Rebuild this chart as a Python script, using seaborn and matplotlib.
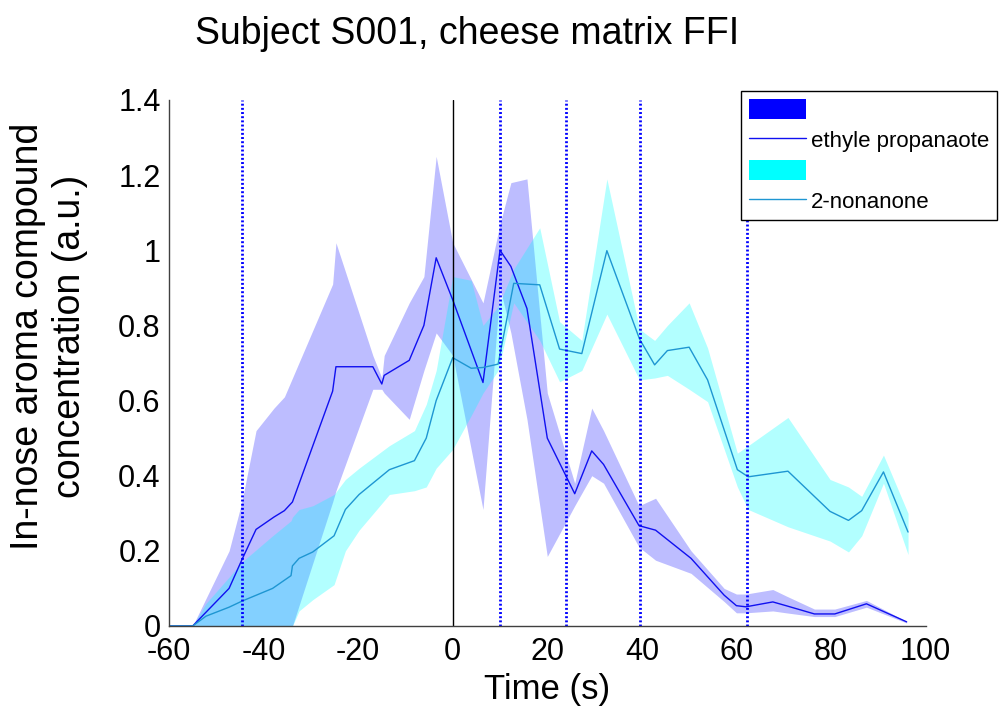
import numpy as np
import matplotlib
matplotlib.use("Agg")
import matplotlib.pyplot as plt
import seaborn as sns
from matplotlib.patches import Patch
from matplotlib.lines import Line2D
from matplotlib.ticker import FuncFormatter

# ------------------------------
# DATA
# ------------------------------

# ethyle propanaote: time, mean, lower / upper band
t_eth = [-60, -55, -47.3, -44.6, -41.6, -37.8, -35.6, -33.9, -25.4, -24.7, -16.9, -15.0, -14.5,
         -9.2, -6.1, -3.5, 0.0, 6.4, 10.0, 12.3, 15.7, 20.0, 25.8, 29.4, 31.9, 39.4, 42.9,
         50.4, 57.4, 60.0, 62.0, 67.7, 70.5, 76.5, 80.8, 87.5, 96.0]
eth_mean = [0, 0, 0.10, 0.176, 0.257, 0.29, 0.307, 0.33, 0.625, 0.69, 0.69, 0.644, 0.667,
            0.707, 0.80, 0.98, 0.868, 0.648, 1.0, 0.957, 0.845, 0.50, 0.352, 0.466, 0.43, 0.267, 0.255,
            0.18, 0.082, 0.054, 0.051, 0.064, 0.054, 0.032, 0.032, 0.059, 0.011]
eth_lo = [0, 0, 0, 0, 0, 0, 0, 0, 0.33, 0.36, 0.63, 0.63, 0.62,
          0.55, 0.68, 0.78, 0.72, 0.31, 0.90, 0.78, 0.55, 0.185, 0.32, 0.40, 0.38, 0.21, 0.175,
          0.14, 0.065, 0.035, 0.035, 0.04, 0.035, 0.025, 0.025, 0.05, 0.008]
eth_hi = [0, 0, 0.20, 0.33, 0.52, 0.58, 0.61, 0.66, 0.91, 1.02, 0.72, 0.66, 0.72,
          0.86, 0.93, 1.25, 1.02, 0.86, 1.07, 1.18, 1.19, 0.62, 0.38, 0.58, 0.52, 0.32, 0.34,
          0.20, 0.10, 0.085, 0.085, 0.097, 0.08, 0.045, 0.045, 0.068, 0.012]

# 2-nonanone: time, mean, lower / upper band
t_non = [-60, -55, -52.2, -47.3, -44.6, -38.1, -34.2, -33.9, -32.5, -29.6, -25.1, -22.7, -19.8,
         -13.4, -8.1, -5.6, -3.5, 0.0, 3.9, 6.4, 9.6, 12.9, 18.4, 22.6, 27.3, 32.6, 39.5,
         42.7, 45.4, 50.0, 53.9, 60.2, 62.5, 70.9, 79.8, 83.7, 86.5, 91.1, 96.3]
non_mean = [0, 0, 0.026, 0.05, 0.066, 0.10, 0.134, 0.16, 0.18, 0.197, 0.24, 0.31, 0.35,
            0.416, 0.44, 0.50, 0.60, 0.714, 0.686, 0.688, 0.697, 0.912, 0.908, 0.737, 0.725, 0.999, 0.764,
            0.695, 0.733, 0.742, 0.655, 0.416, 0.397, 0.412, 0.305, 0.281, 0.307, 0.41, 0.25]
non_lo = [0, 0, 0, 0, 0, 0, 0, 0, 0.04, 0.07, 0.11, 0.20, 0.255,
          0.35, 0.36, 0.37, 0.42, 0.47, 0.56, 0.62, 0.68, 0.86, 0.76, 0.65, 0.68, 0.83, 0.655,
          0.66, 0.667, 0.63, 0.597, 0.37, 0.31, 0.264, 0.226, 0.197, 0.24, 0.38, 0.19]
non_hi = [0, 0, 0.06, 0.13, 0.17, 0.24, 0.28, 0.29, 0.31, 0.32, 0.35, 0.39, 0.42,
          0.48, 0.52, 0.59, 0.68, 0.93, 0.92, 0.80, 0.85, 0.95, 1.06, 0.81, 0.76, 1.19, 0.79,
          0.76, 0.80, 0.86, 0.74, 0.46, 0.48, 0.555, 0.39, 0.37, 0.345, 0.455, 0.30]

event_times = [-44.5, 10, 24, 39.7, 62.3]
x_ticks = [-60, -40, -20, 0, 20, 40, 60, 80, 100]
y_ticks = [0, 0.2, 0.4, 0.6, 0.8, 1.0, 1.2, 1.4]

# ------------------------------
# PLOT
# ------------------------------
sns.set_style("white")
plt.rcParams['font.family'] = ['Liberation Sans', 'DejaVu Sans']
plt.rcParams['axes.unicode_minus'] = False
plt.rcParams['text.color'] = 'black'
plt.rcParams['axes.labelcolor'] = 'black'
plt.rcParams['xtick.labelcolor'] = 'black'
plt.rcParams['ytick.labelcolor'] = 'black'

fig = plt.figure(figsize=(10.08, 7.24), dpi=100)
ax = fig.add_axes([0.1677, 0.1354, 0.7505, 0.7265])

ax.fill_between(t_eth, eth_lo, eth_hi, color='blue', alpha=0.26, linewidth=0)
ax.fill_between(t_non, non_lo, non_hi, color='cyan', alpha=0.3, linewidth=0)

sns.lineplot(x=t_eth, y=eth_mean, ax=ax, color='#1010f0', linewidth=1, estimator=None)
sns.lineplot(x=t_non, y=non_mean, ax=ax, color='#1e96d2', linewidth=1, estimator=None)

ax.axvline(0, color='black', linewidth=1)
for et in event_times:
    ax.axvline(et, color='#0000ff', linewidth=2.0, linestyle=(0, (0.7, 0.8)))

ax.set_xlim(-60, 100)
ax.set_ylim(0, 1.4)
ax.set_xticks(x_ticks)
ax.set_yticks(y_ticks)
ax.yaxis.set_major_formatter(FuncFormatter(lambda v, p: f"{v:g}"))
ax.tick_params(direction='in', length=5, width=1, color='#404040', labelsize=22, pad=8)
ax.tick_params(axis='y', pad=6)

for side in ['top', 'right']:
    ax.spines[side].set_visible(False)
for side in ['left', 'bottom']:
    ax.spines[side].set_color('#404040')
    ax.spines[side].set_linewidth(1)

ax.set_xlabel("Time (s)", fontsize=25, labelpad=4)
ax.set_ylabel("In-nose aroma compound\nconcentration (a.u.)", fontsize=27)
ax.yaxis.set_label_coords(-0.107, 0.551)
fig.text(0.463, 0.953, "Subject S001, cheese matrix FFI", fontsize=27, ha='center', va='center')

handles = [Patch(facecolor='blue', edgecolor='none'),
           Line2D([0], [0], color='#1010f0', linewidth=1),
           Patch(facecolor='cyan', edgecolor='none'),
           Line2D([0], [0], color='#1e96d2', linewidth=1)]
labels = ['', 'ethyle propanaote', '', '2-nonanone']
leg = ax.legend(handles, labels, loc='upper left', bbox_to_anchor=(0.735, 0.874),
                bbox_transform=fig.transFigure, borderaxespad=0, fontsize=16,
                fancybox=False, framealpha=1, edgecolor='black', handlelength=2.6,
                handleheight=1.0, labelspacing=0.35, handletextpad=0.2, borderpad=0.35)
leg.get_frame().set_linewidth(1)

plt.savefig("out.png", dpi=100)
